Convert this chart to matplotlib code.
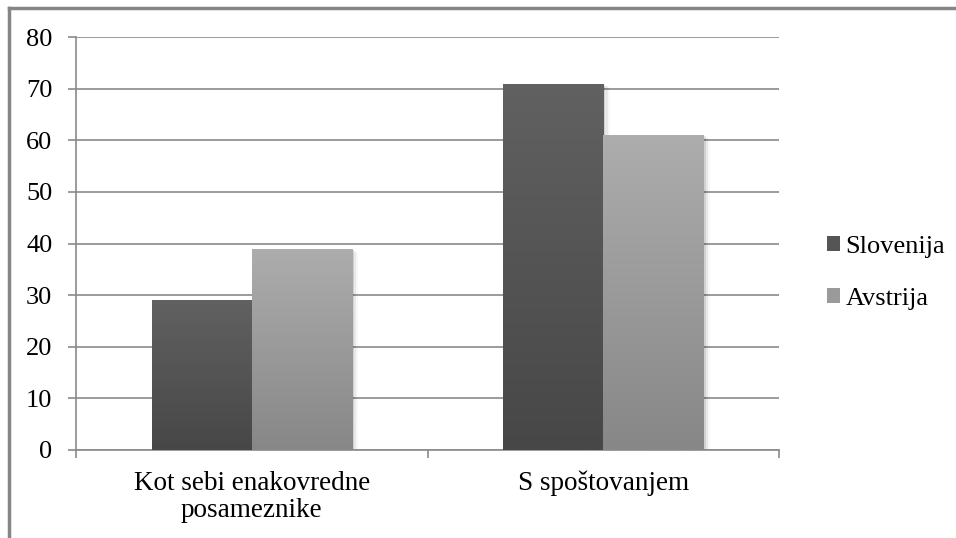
import numpy as np
import matplotlib
matplotlib.use('Agg')
import matplotlib.pyplot as plt
from matplotlib.patches import Patch
from matplotlib.lines import Line2D

# Datos del grafico
categorias = ['Kot sebi enakovredne\nposameznike', 'S spoštovanjem']
series = ['Slovenija', 'Avstrija']
slovenija = [29, 71]
avstrija = [39, 61]

plt.rcParams['font.family'] = ['Liberation Serif', 'DejaVu Serif']

fig = plt.figure(figsize=(9.56, 5.38), dpi=100)
ax = fig.add_axes([0.0795, 0.1636, 0.7355, 0.7675])

ancho = 0.285
x = np.arange(len(categorias))

# colores del degradado (arriba, abajo)
grad = {
    'Slovenija': ('#616161', '#474747'),
    'Avstrija': ('#adadad', '#878787'),
}

def barras_degradado(posiciones, valores, nombre):
    top, bottom = grad[nombre]
    c1 = np.array(matplotlib.colors.to_rgb(top))
    c2 = np.array(matplotlib.colors.to_rgb(bottom))
    t = np.linspace(0, 1, 256)[:, None]
    img = (c1 * (1 - t) + c2 * t)[:, None, :]
    barras = ax.bar(posiciones, valores, width=ancho, color=bottom, zorder=3, linewidth=0)
    for b in barras:
        x0, y0 = b.get_x(), b.get_y()
        w, h = b.get_width(), b.get_height()
        # sombra suave
        for k, a in enumerate([0.10, 0.06, 0.03]):
            ax.bar(x0 + w / 2 + 0.006 * (k + 1), h, width=w, bottom=y0 - 0.25 * (k + 1),
                   color='black', alpha=a, zorder=2, linewidth=0)
        im = ax.imshow(img, extent=[x0, x0 + w, y0, y0 + h], aspect='auto', zorder=4,
                       interpolation='bilinear')
        im.set_clip_path(b)
    return barras

barras_degradado(x - ancho / 2, slovenija, 'Slovenija')
barras_degradado(x + ancho / 2, avstrija, 'Avstrija')

ax.set_xlim(-0.5, 1.5)
ax.set_ylim(0, 80)
ax.set_yticks(range(0, 81, 10))
ax.yaxis.grid(True, color='#8a8a8a', linewidth=1.2, zorder=1)
ax.set_axisbelow(True)

ax.set_xticks(x)
ax.set_xticklabels(categorias, fontsize=19.5, linespacing=1.1)
ax.set_xticks([-0.5, 0.5, 1.5], minor=True)
ax.tick_params(axis='x', which='major', length=0, pad=15)
ax.tick_params(axis='x', which='minor', length=6, color='#8a8a8a', width=1.2)
ax.tick_params(axis='y', length=6, color='#8a8a8a', width=1.2, labelsize=19, pad=11)

for s in ['top', 'right']:
    ax.spines[s].set_visible(False)
for s in ['left', 'bottom']:
    ax.spines[s].set_color('#8a8a8a')
    ax.spines[s].set_linewidth(1.2)

handles = [Patch(facecolor='#555555'), Patch(facecolor='#9a9a9a')]
fig.legend(handles, series, loc='center left', bbox_to_anchor=(0.84, 0.4926),
           frameon=False, fontsize=19, handlelength=0.5, handleheight=0.5,
           handletextpad=0.2, labelspacing=1.15)

# marco del area del grafico
xf = 9 / 956
yf = 1 - 8 / 538
fig.add_artist(Line2D([xf, xf], [0, yf], color='#868686', linewidth=2.5, transform=fig.transFigure))
fig.add_artist(Line2D([xf, 1], [yf, yf], color='#868686', linewidth=2.5, transform=fig.transFigure))

fig.savefig('out.png', dpi=100)
